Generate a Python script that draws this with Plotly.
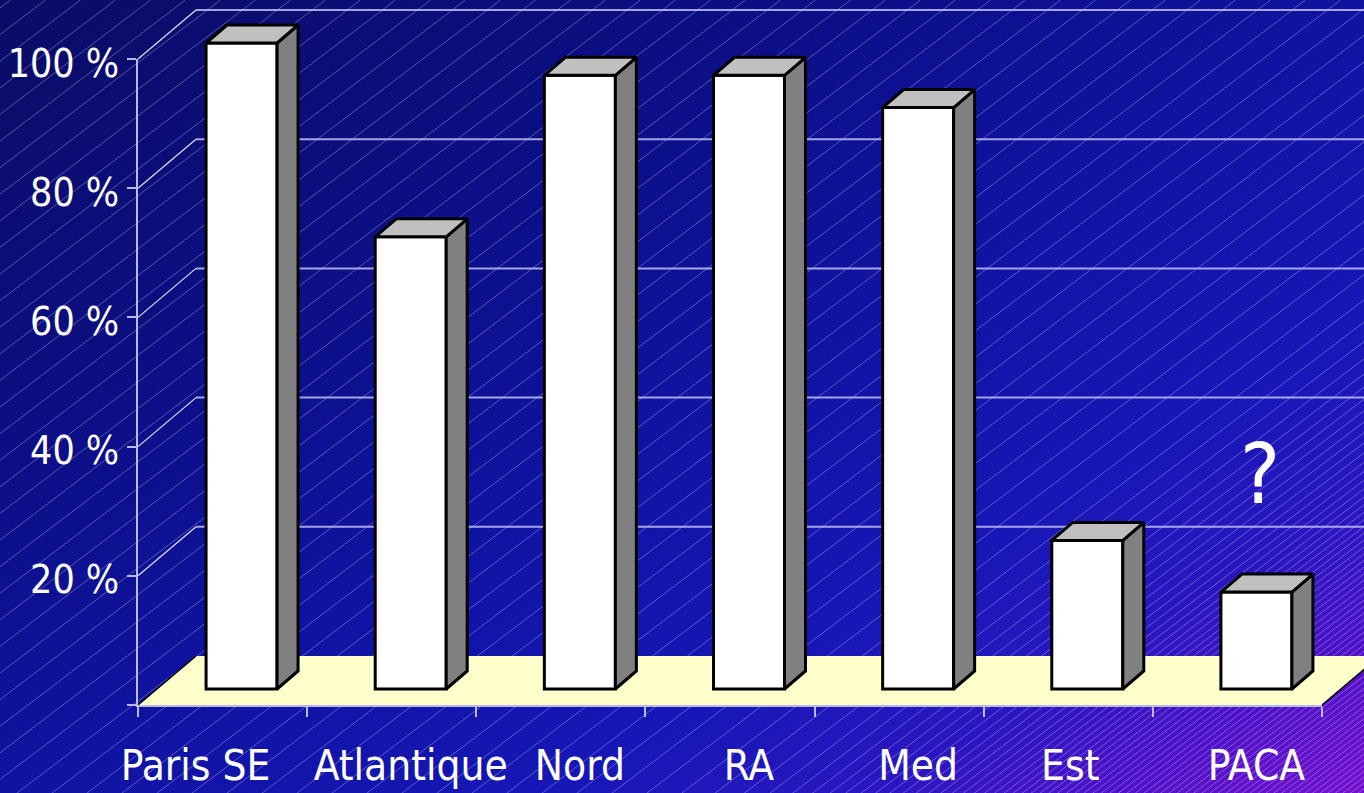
import base64
import plotly.graph_objects as go

# ---------------- data ----------------
categories = ["Paris SE", "Atlantique", "Nord", "RA", "Med", "Est", "PACA"]
values = [100, 70, 95, 95, 90, 23, 15]
y_tick_values = [0, 20, 40, 60, 80, 100]
y_tick_labels = ["", "20 %", "40 %", "60 %", "80 %", "100 %"]
note_text = "?"

# ---------------- geometry / style (layout only) ----------------
W, H = 1364, 793
PX_L, PX_R = 138, 1322      # front plane, x extent (px)
PX_B, PX_T = 705, 59        # front plane, 0 % and 100 % (px)
n = len(categories)
UX = (PX_R - PX_L) / n      # px per category unit
UY = (PX_B - PX_T) / 100.0  # px per percent

x_range = [-PX_L / UX, (W - PX_L) / UX]
y_range = [-(H - PX_B) / UY, PX_B / UY]

WALL_DX, WALL_DY = 58 / UX, 49 / UY     # depth of the whole chart box
FRONT_DX, FRONT_DY = 19 / UX, 16 / UY   # bar front plane offset
BAR_DX, BAR_DY = 21 / UX, 18 / UY       # bar depth
BAR_W = 71 / UX
LABEL_NUDGE_PX = [-46, 0, 0, 0, 0, -17, 0]

FONT = "Liberation Sans Narrow, DejaVu Sans Condensed, Liberation Sans, Arial, sans-serif"
FS_X = 42
FS_Y = 39
AXIS_C = "#B9B9E3"
GRID_C = "rgba(190,190,245,0.85)"

# ---------------- background (gradient + hatching) ----------------
def hatch_spacing(c):
    pts = [(0, 35), (1300, 35), (1420, 16), (1560, 9), (1900, 7)]
    for (c0, h0), (c1, h1) in zip(pts, pts[1:]):
        if c0 <= c <= c1:
            return h0 + (h1 - h0) * (c - c0) / (c1 - c0)
    return 7

slope = 0.76
segs = []
c = 8.0
cmax = H + slope * W + 20
while c < cmax:
    segs.append(f"M0,{c:.1f} L{c / slope:.1f},0")
    c += slope * hatch_spacing(c)

svg = f'''<svg xmlns="http://www.w3.org/2000/svg" width="{W}" height="{H}" viewBox="0 0 {W} {H}" preserveAspectRatio="none">
<defs>
<linearGradient id="g" gradientUnits="userSpaceOnUse" x1="0" y1="0" x2="689.2" y2="1185.4">
<stop offset="0" stop-color="#0A0C66"/>
<stop offset="0.3" stop-color="#0C0F86"/>
<stop offset="0.5" stop-color="#0F13A0"/>
<stop offset="0.7" stop-color="#1617B6"/>
<stop offset="0.82" stop-color="#2A16C0"/>
<stop offset="0.91" stop-color="#5012C8"/>
<stop offset="1" stop-color="#7410CE"/>
</linearGradient>
</defs>
<rect x="0" y="0" width="{W}" height="{H}" fill="url(#g)"/>
<path d="{' '.join(segs)}" stroke="rgba(205,205,255,0.38)" stroke-width="1" fill="none"/>
</svg>'''
bg_uri = "data:image/svg+xml;base64," + base64.b64encode(svg.encode()).decode()

# ---------------- figure ----------------
fig = go.Figure()

centers = [i + 0.5 + FRONT_DX for i in range(n)]

# bar front faces
fig.add_trace(go.Bar(
    x=centers, y=values, base=[FRONT_DY] * n, width=BAR_W,
    marker=dict(color="white", line=dict(color="black", width=3)),
    xaxis="x", yaxis="y", hoverinfo="skip", showlegend=False,
))

# bar side and top faces
side_x, side_y, top_x, top_y = [], [], [], []
for cx, v in zip(centers, values):
    xl, xr = cx - BAR_W / 2, cx + BAR_W / 2
    y0, y1 = FRONT_DY, FRONT_DY + v
    side_x += [xr, xr + BAR_DX, xr + BAR_DX, xr, xr, None]
    side_y += [y0, y0 + BAR_DY, y1 + BAR_DY, y1, y0, None]
    top_x += [xl, xl + BAR_DX, xr + BAR_DX, xr, xl, None]
    top_y += [y1, y1 + BAR_DY, y1 + BAR_DY, y1, y1, None]

fig.add_trace(go.Scatter(x=side_x, y=side_y, mode="lines", fill="toself",
                         fillcolor="#808080", line=dict(color="black", width=3),
                         xaxis="x", yaxis="y", hoverinfo="skip", showlegend=False))
fig.add_trace(go.Scatter(x=top_x, y=top_y, mode="lines", fill="toself",
                         fillcolor="#C0C0C0", line=dict(color="black", width=3),
                         xaxis="x", yaxis="y", hoverinfo="skip", showlegend=False))

# anchor trace for the visible axes
fig.add_trace(go.Scatter(x=[0], y=[0], mode="markers", marker=dict(opacity=0),
                         xaxis="x2", yaxis="y2", hoverinfo="skip", showlegend=False))

# back wall grid, left wall lines, floor
shapes = []
for v in y_tick_values[1:]:
    shapes.append(dict(type="line", xref="x", yref="y", layer="below",
                       x0=WALL_DX, y0=v + WALL_DY, x1=x_range[1] + 1, y1=v + WALL_DY,
                       line=dict(color=GRID_C, width=2)))
    shapes.append(dict(type="line", xref="x", yref="y", layer="below",
                       x0=0, y0=v, x1=WALL_DX, y1=v + WALL_DY,
                       line=dict(color="rgba(235,235,255,0.95)", width=1.2)))
shapes.append(dict(type="path", xref="x", yref="y", layer="below",
                   path=f"M 0,0 L {WALL_DX},{WALL_DY} L {n + WALL_DX},{WALL_DY} L {n},0 Z",
                   fillcolor="#FFFFCC", line=dict(width=0)))
for x0 in (0, n):
    shapes.append(dict(type="line", xref="x", yref="y", layer="below",
                       x0=x0, y0=0, x1=x0 + WALL_DX, y1=WALL_DY,
                       line=dict(color="black", width=1.5)))

label_vals = [cx + d / UX for cx, d in zip(centers, LABEL_NUDGE_PX)]

fig.update_layout(
    template="none",
    width=W, height=H,
    margin=dict(l=0, r=0, t=0, b=0, pad=0, autoexpand=False),
    paper_bgcolor="#0E12A0",
    plot_bgcolor="rgba(0,0,0,0)",
    font=dict(family=FONT, color="white", size=FS_X),
    showlegend=False,
    images=[dict(source=bg_uri, xref="paper", yref="paper", x=0, y=1,
                 sizex=1, sizey=1, xanchor="left", yanchor="top",
                 sizing="stretch", layer="below")],
    shapes=shapes,
    xaxis=dict(domain=[0, 1], range=x_range, visible=False, fixedrange=True,
               automargin=False),
    yaxis=dict(domain=[0, 1], range=y_range, visible=False, fixedrange=True,
               automargin=False),
    xaxis2=dict(domain=[PX_L / W, PX_R / W], range=[0, n], anchor="y2",
                automargin=False,
                showline=True, linecolor=AXIS_C, linewidth=2,
                showgrid=False, zeroline=False, fixedrange=True,
                tickmode="array", tickvals=label_vals, ticktext=categories,
                ticks="", ticklabelstandoff=23,
                tickfont=dict(family=FONT, size=FS_X, color="white"),
                minor=dict(tickmode="array", tickvals=list(range(n + 1)),
                           ticks="outside", ticklen=10, tickwidth=2,
                           tickcolor=AXIS_C, showgrid=False)),
    yaxis2=dict(domain=[(H - PX_B) / H, (H - PX_T) / H], range=[0, 100], anchor="x2",
                automargin=False,
                showline=True, linecolor=AXIS_C, linewidth=2,
                showgrid=False, zeroline=False, fixedrange=True,
                tickmode="array", tickvals=y_tick_values, ticktext=y_tick_labels,
                ticks="outside", ticklen=9, tickwidth=2, tickcolor=AXIS_C,
                ticklabelshift=4, ticklabelstandoff=0,
                tickfont=dict(family=FONT, size=FS_Y, color="white")),
    annotations=[dict(text=note_text, xref="x", yref="y",
                      x=centers[-1], y=35.8, xshift=4, showarrow=False,
                      font=dict(family=FONT, size=84, color="white"),
                      xanchor="center", yanchor="middle")],
)

fig.write_html("out.html")
